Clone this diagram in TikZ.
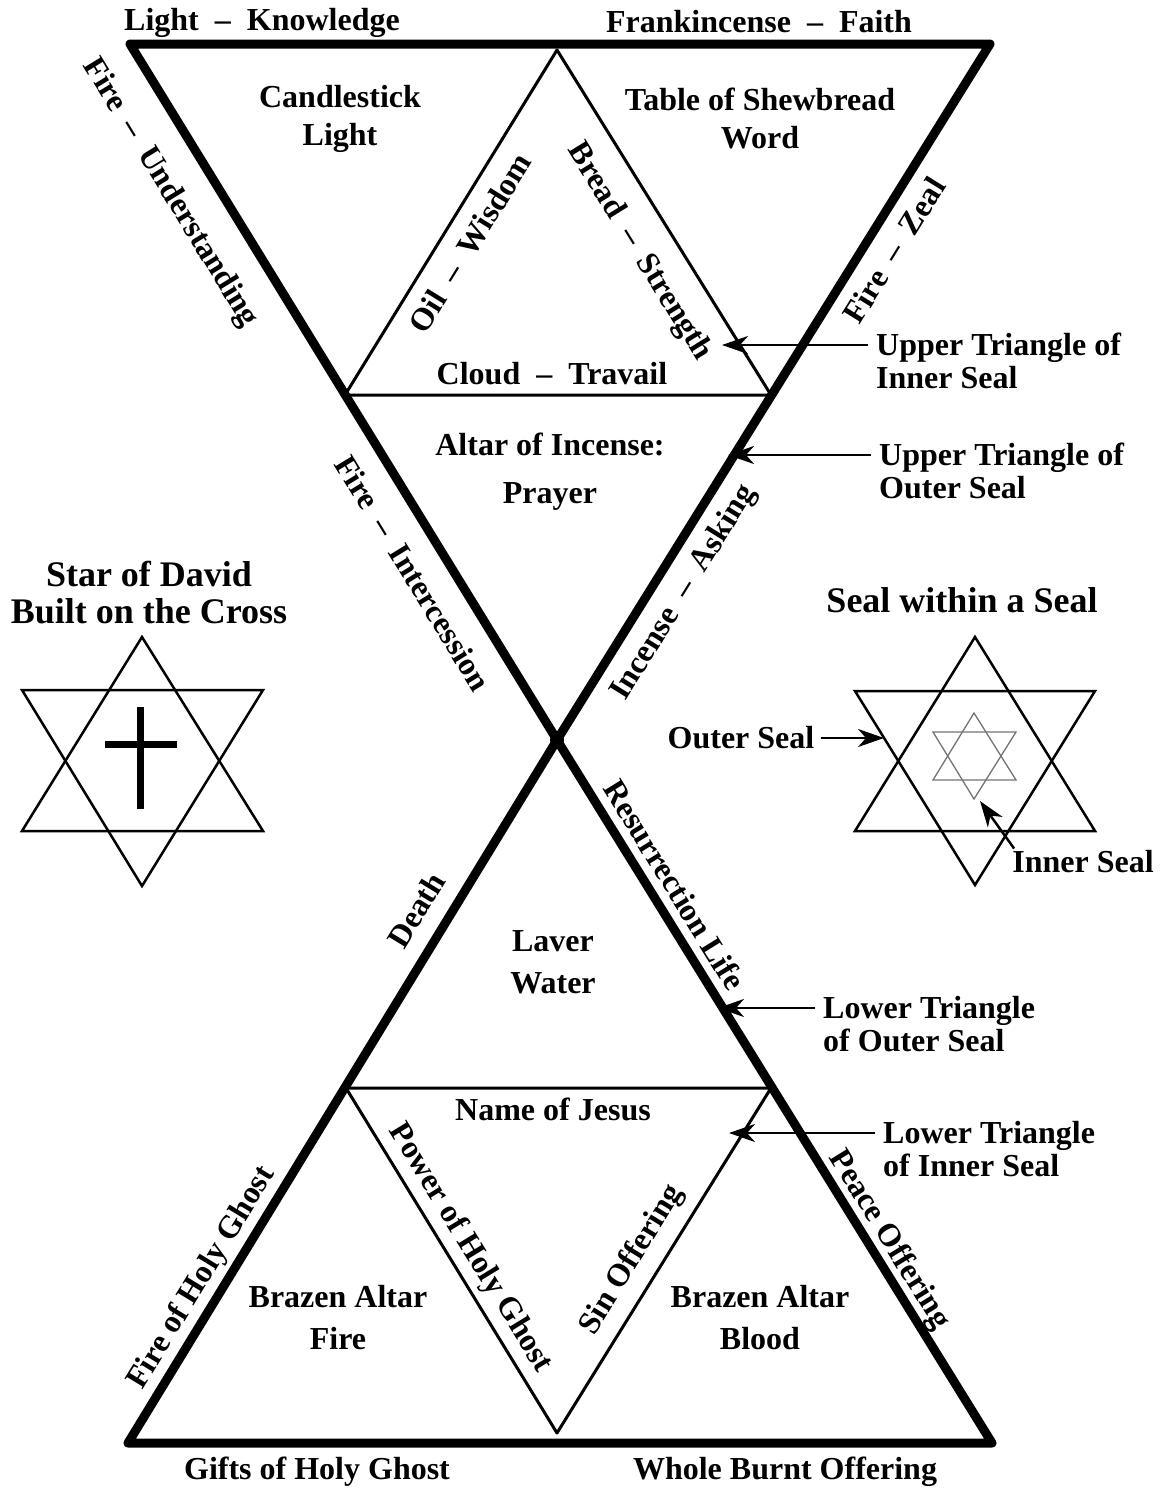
\documentclass[tikz,border=0pt]{standalone}
\usepackage{fontspec}
\setmainfont{Liberation Serif}
\usetikzlibrary{arrows.meta}
\newcommand{\dsh}{\enspace\textendash\enspace}
\begin{document}
\begin{tikzpicture}[x=1pt, y=-1pt,
  lbl/.style={font=\fontsize{32}{40}\selectfont\bfseries, align=center, inner sep=0pt},
  side/.style={font=\fontsize{32}{33}\selectfont\bfseries, align=left, inner sep=0pt, inner xsep=8pt, anchor=west},
  head/.style={font=\fontsize{36}{37}\selectfont\bfseries, align=center, inner sep=0pt},
  seal/.style={line width=9pt, line join=round},
  inner/.style={line width=3pt, line join=round},
  star/.style={line width=2.5pt},
  ptr/.style={-{Stealth[length=26pt,width=18pt,inset=8pt]}, line width=2.5pt}]
\useasboundingbox (0,0) rectangle (1162,1489);
\coordinate (tl) at (130,44);
\coordinate (tr) at (990,44);
\coordinate (c)  at (557,740);
\coordinate (bl) at (128,1443);
\coordinate (br) at (992,1443);
\coordinate (ua) at (557,50);
\coordinate (ul) at (345,395);
\coordinate (ur) at (771,395);
\coordinate (ll) at (346,1088);
\coordinate (lr) at (771,1088);
\coordinate (la) at (557,1433);
\draw[seal] (tl) -- (tr) -- (c) -- cycle;
\draw[seal] (bl) -- (br) -- (c) -- cycle;
\draw[inner] (ua) -- (ur) -- (ul) -- cycle;
\draw[inner] (ll) -- (lr) -- (la) -- cycle;
\fill (c) circle (7pt);
\node[lbl] (lk)  at (262,23)   {Light\dsh Knowledge};
\node[lbl] (ff)  at (759,22)   {Frankincense\dsh Faith};
\node[lbl] (cs)  at (340,119)  {Candlestick\\[-2pt]Light};
\node[lbl] (ts)  at (760,118)  {Table of Shewbread\\[-2pt]Word};
\node[lbl] (ct)  at (552,374)  {Cloud\dsh Travail};
\node[lbl] (ai)  at (550,472)  {Altar of Incense:\\[8pt]Prayer};
\node[lbl] (lw)  at (553,962)  {Laver\\[2pt]Water};
\node[lbl] (nj)  at (553,1109) {Name of Jesus};
\node[lbl] (baf) at (338,1318) {Brazen Altar\\[2pt]Fire};
\node[lbl] (bab) at (760,1318) {Brazen Altar\\[2pt]Blood};
\node[lbl] (gh)  at (317,1472) {Gifts of Holy Ghost};
\node[lbl] (wb)  at (785,1472) {Whole Burnt Offering};
\node[lbl, rotate=-58.5] (fu) at (170,193)  {Fire\dsh Understanding};
\node[lbl, rotate=58.3]  (ow) at (470,243)  {Oil\dsh Wisdom};
\node[lbl, rotate=-58.3] (bs) at (639,252)  {Bread\dsh Strength};
\node[lbl, rotate=58.1]  (fz) at (894,250)  {Fire\dsh Zeal};
\node[lbl, rotate=-58.5] (fi) at (413,573)  {Fire\dsh Intercession};
\node[lbl, rotate=58.1]  (ia) at (684,593)  {Incense\dsh Asking};
\node[lbl, rotate=58.6]  (de) at (416,910)  {Death};
\node[lbl, rotate=-58.3] (rl) at (675,885)  {Resurrection Life};
\node[lbl, rotate=58.6]  (fh) at (202,1278) {Fire of Holy Ghost};
\node[lbl, rotate=-58.5] (ph) at (470,1248) {Power of Holy Ghost};
\node[lbl, rotate=58.5]  (so) at (632,1260) {Sin Offering};
\node[lbl, rotate=-58.3] (po) at (889,1240) {Peace Offering};
\node[side] (ui) at (868,361)  {Upper Triangle of\\Inner Seal};
\node[side] (uo) at (871,471)  {Upper Triangle of\\Outer Seal};
\node[side] (lo) at (815,1024) {Lower Triangle\\of Outer Seal};
\node[side] (li) at (875,1149) {Lower Triangle\\of Inner Seal};
\coordinate (uiT) at (722,345);
\coordinate (uoT) at (728,455);
\coordinate (loT) at (718,1008);
\coordinate (liT) at (729,1133);
\draw[ptr] (ui.west |- uiT) -- (uiT);
\draw[ptr] (uo.west |- uoT) -- (uoT);
\draw[ptr] (lo.west |- loT) -- (loT);
\draw[ptr] (li.west |- liT) -- (liT);
\node[head] (sd) at (149,593) {Star of David\\Built on the Cross};
\draw[star] (142,637) -- (263,831) -- (22,831) -- cycle;
\draw[star] (22,690) -- (263,690) -- (142,886) -- cycle;
\draw[line width=7pt] (140,707) -- (140,809);
\draw[line width=7pt] (105,744) -- (177,744);
\node[head] (sw) at (962,600) {Seal within a Seal};
\draw[star] (975,637) -- (1095,831) -- (855,831) -- cycle;
\draw[star] (855,691) -- (1095,691) -- (975,885) -- cycle;
\draw[line width=1.3pt, black!55] (974,713) -- (1016,780) -- (933,780) -- cycle;
\draw[line width=1.3pt, black!55] (933,732) -- (1016,732) -- (974,799) -- cycle;
\node[lbl] (os) at (741,738) {Outer Seal};
\node[lbl] (is) at (1083,862) {Inner Seal};
\coordinate (osT) at (884,738);
\coordinate (isT) at (980,801);
\draw[ptr] ([xshift=6pt]os.east) -- (osT);
\draw[ptr] ([xshift=2pt,yshift=2pt]is.north west) -- (isT);
\end{tikzpicture}
\end{document}
